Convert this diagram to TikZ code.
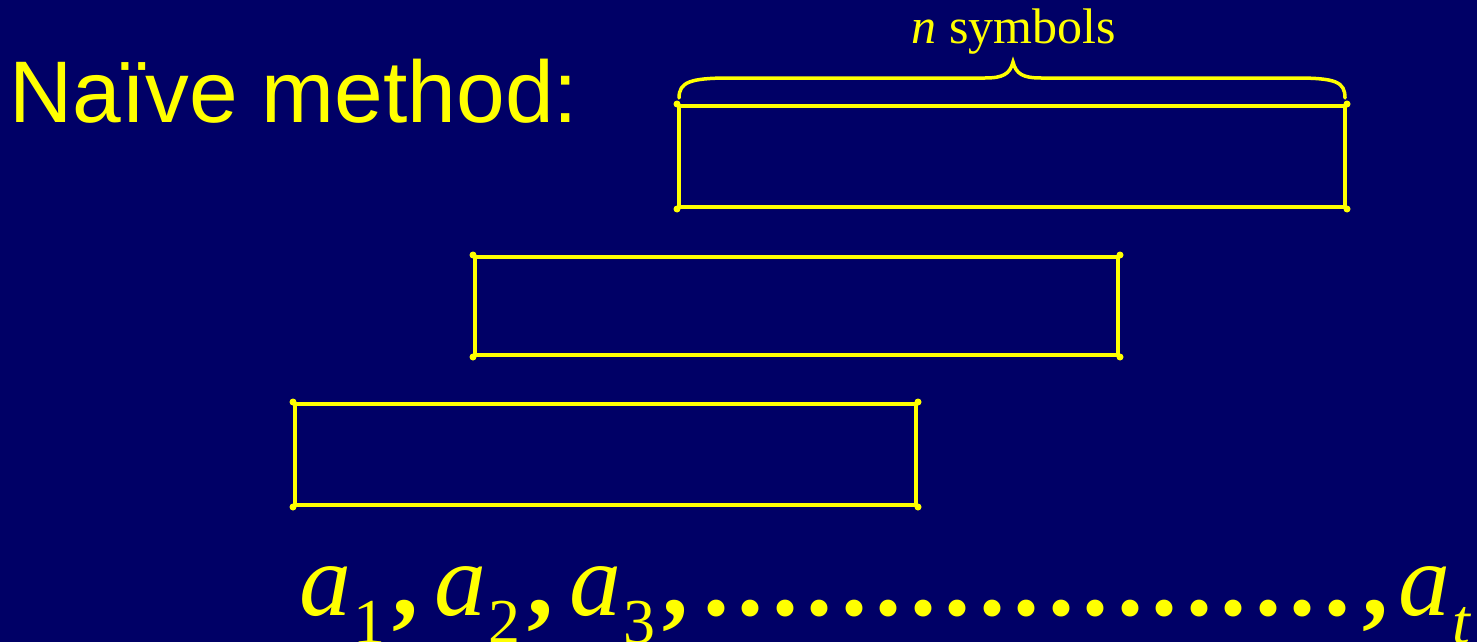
\documentclass[tikz,border=0pt]{standalone}
\usepackage{fontspec}
\setmainfont{Liberation Serif}
\newfontfamily\titlefont{Liberation Sans}
\definecolor{navy}{RGB}{0,0,102}
\definecolor{yel}{RGB}{255,255,0}
\newcommand\seqa[1]{{\itshape a}\kern2pt\raisebox{-28pt}{\fontsize{64}{64}\selectfont #1}}
\newcommand\seqdot{{\bfseries .}\kern8.5pt}
\newcommand\seqcomma{{\bfseries ,}}
\tikzset{
  seqbox/.style={draw=yel, line width=4pt, minimum width=#1, inner sep=0pt},
  cornerdot/.style={fill=yel},
  bracestyle/.style={draw=yel, line width=3.5pt, line cap=round}
}
\begin{document}
\begin{tikzpicture}[x=1pt,y=-1pt]
\fill[navy] (0,0) rectangle (1477,642);
\useasboundingbox (0,0) rectangle (1477,642);
\node[anchor=base west, inner sep=0pt, text=yel, font=\titlefont\fontsize{87.5}{87.5}\selectfont] (title) at (9,122) {Naïve method:};
\node[seqbox=666pt, minimum height=101pt] (b1) at (1012,156.5) {};
\node[seqbox=643pt, minimum height=98pt] (b2) at (796.5,306) {};
\node[seqbox=621pt, minimum height=101pt] (b3) at (605.5,454.5) {};
\foreach \b in {b1,b2,b3}{
  \foreach \c in {north west,north east,south west,south east}
    \fill[cornerdot] (\b.\c) circle (3.5pt);
}
\coordinate (brL) at (679,98);
\coordinate (brR) at (1345,98);
\coordinate (brT) at (1013,62);
\draw[bracestyle] (brL) .. controls (679,82) and (690,78) .. (730,78) -- (985,78) .. controls (1003,78) and (1010,74) .. (brT)
  .. controls (1016,74) and (1023,78) .. (1041,78) -- (1296,78) .. controls (1336,78) and (1345,82) .. (brR);
\node[anchor=base, inner sep=0pt, text=yel, font=\fontsize{50}{50}\selectfont] (nsym) at (1014,44) {{\itshape n} symbols};
\node[anchor=base west, inner sep=0pt, text=yel, font=\fontsize{104}{104}\selectfont] (seq) at (299,615)
 {\seqa{1}\kern7pt\seqcomma\kern16pt\seqa{2}\kern7pt\seqcomma\kern16pt\seqa{3}\kern7pt\seqcomma\kern15pt\seqdot\seqdot\seqdot\seqdot\seqdot\seqdot\seqdot\seqdot\seqdot\seqdot\seqdot\seqdot\seqdot\seqdot\seqdot\seqdot\seqdot\seqdot\seqdot\kern3.5pt\seqcomma\kern10pt\seqa{\itshape t}};
\end{tikzpicture}
\end{document}
